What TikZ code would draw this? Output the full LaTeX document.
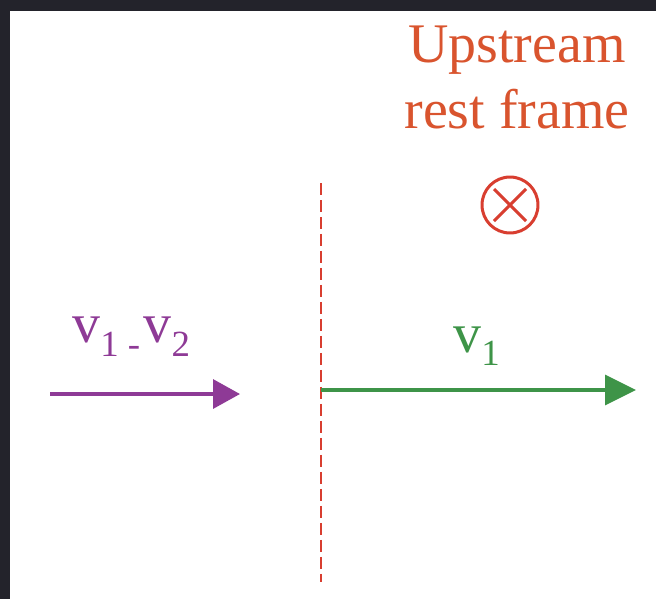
\documentclass[tikz,border=0pt]{standalone}
\usepackage{fontspec}
\setmainfont{Liberation Serif}
\usetikzlibrary{arrows.meta, positioning}
\definecolor{frameorange}{RGB}{217,84,46}
\definecolor{shockred}{RGB}{216,62,48}
\definecolor{flowpurple}{RGB}{142,58,150}
\definecolor{flowgreen}{RGB}{62,148,72}
\definecolor{edgedark}{RGB}{35,35,43}
\newcommand{\lowsub}[2][8.5pt]{\raisebox{-#1}{\fontsize{21}{21}\selectfont #2}}

\begin{document}
\begin{tikzpicture}[
  x=0.02cm, y=-0.02cm,
  font=\fontsize{31.8}{37.5}\selectfont,
  vlabel/.style={inner sep=0pt, anchor=base west},
  flowarrow/.style={line width=1.9pt},
  shockline/.style={shockred, line width=1.2pt, dash pattern=on 0.24cm off 0.1cm}
]
  \useasboundingbox (0,0) rectangle (656,599);
  \fill[edgedark] (0,0) rectangle (656,599);
  \fill[white] (10,11) rectangle (656,599);

  \node[frameorange, align=center, inner sep=0pt, anchor=base] (title) at (517,128) {Upstream\\rest frame};
  \node[circle, draw=shockred, line width=1.7pt, minimum size=1.12cm, inner sep=0pt] (into) at (510,205) {};
  \draw[shockred, line width=1.7pt] (into.center) +(-16,-16) -- +(16,16);
  \draw[shockred, line width=1.7pt] (into.center) +(-16,16) -- +(16,-16);

  \coordinate (shocktop) at (321,183);
  \coordinate (shockbot) at (321,582);
  \draw[shockline] (shocktop) -- (shockbot);

  % flow seen from the two sides
  \coordinate (inflow) at (50,394);
  \coordinate (inflowtip) at (240,394);
  \draw[flowarrow, flowpurple, -{Triangle[length=0.54cm, width=0.58cm]}] (inflow) -- (inflowtip);
  \node[vlabel, flowpurple] (vrel) at (72,342) {v\lowsub{1 -\kern2pt}v\lowsub{2}};

  \coordinate (outflow) at (321,390);
  \coordinate (outflowtip) at (636,390);
  \draw[flowarrow, flowgreen, -{Triangle[length=0.62cm, width=0.6cm]}] (outflow) -- (outflowtip);
  \node[vlabel, flowgreen] (vup) at (453,352) {v\lowsub[7.4pt]{1}};
\end{tikzpicture}
\end{document}
